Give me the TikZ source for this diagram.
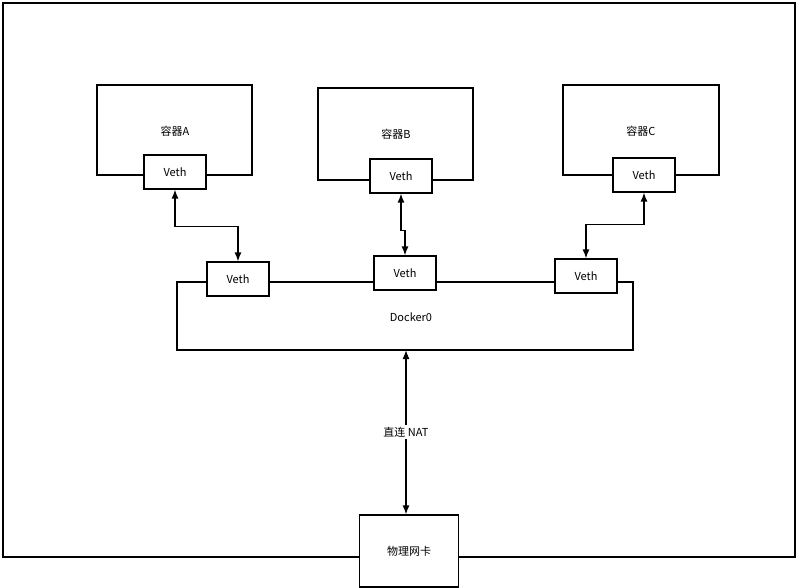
\documentclass[tikz,border=0pt]{standalone}
\usepackage{fontspec}
\setmainfont{Noto Sans CJK SC}
\usetikzlibrary{arrows.meta}
\begin{document}
\begin{tikzpicture}[x=1pt,y=-1pt,
  box/.style={draw,line width=1.2pt,fill=white,inner sep=0pt},
  veth/.style={draw,line width=1.2pt,fill=white,minimum width=62pt,minimum height=34pt,inner sep=0pt,font=\fontsize{11}{13}\selectfont},
  link/.style={line width=1.3pt,{Latex[length=9pt,width=7pt]}-{Latex[length=9pt,width=7pt]}},
  lbl/.style={font=\fontsize{11}{13}\selectfont}]
  \useasboundingbox (0,0) rectangle (811,588);
  \draw[line width=1.2pt] (3,3) rectangle (795,557);

  % containers
  \draw[line width=1.2pt] (97,85) rectangle (252,175);
  \node[lbl] (ca) at (175,131) {容器A};
  \draw[line width=1.2pt] (318,88) rectangle (473,180);
  \node[lbl] (cb) at (396,134) {容器B};
  \draw[line width=1.2pt] (563,85) rectangle (719,175);
  \node[lbl] (cc) at (641,131) {容器C};

  \node[veth] (va) at (175,172) {Veth};
  \node[veth] (vb) at (401,176) {Veth};
  \node[veth] (vc) at (644,175) {Veth};

  % docker0
  \draw[line width=1.2pt] (177,282) rectangle (633,350);
  \node[lbl] (docker) at (411,317) {Docker0};
  \node[veth] (da) at (238,279) {Veth};
  \node[veth] (db) at (405,273) {Veth};
  \node[veth] (dc) at (586,276) {Veth};

  \node[box,minimum width=99pt,minimum height=72pt,lbl] (nic) at (409,551) {物理网卡};
  \coordinate (dbot) at (406,350);

  \draw[link] (va.south) -- ++(0,37) -| (da.north);
  \draw[link] (vb.south) -- ++(0,37) -| (db.north);
  \draw[link] (vc.south) -- ++(0,32) -| (dc.north);
  \draw[link] (dbot) -- node[fill=white,lbl,inner sep=2pt] (nat) {直连 NAT} (nic.north -| dbot);
\end{tikzpicture}
\end{document}
